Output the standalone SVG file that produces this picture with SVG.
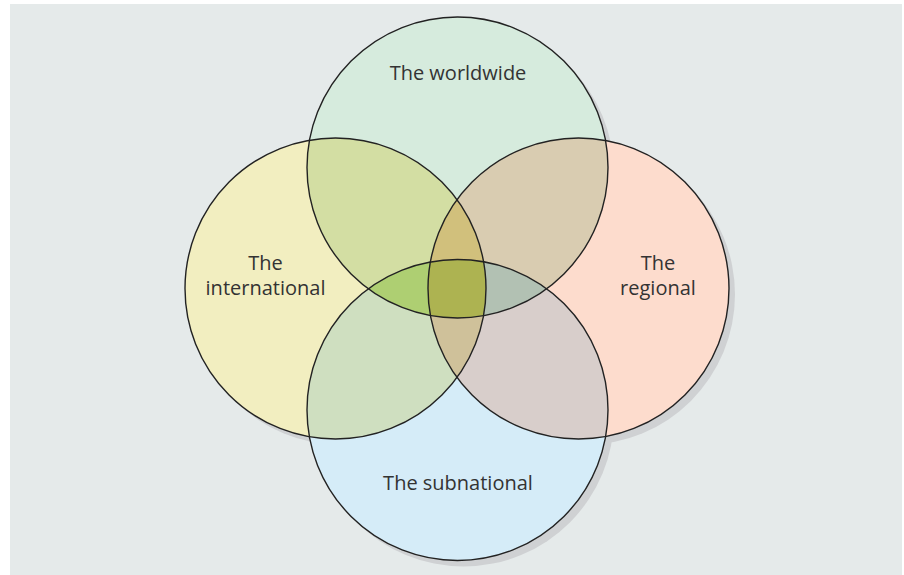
<svg xmlns="http://www.w3.org/2000/svg" width="904" height="575" viewBox="0 0 904 575">
<style>
.lbl{font-family:"Open Sans","Noto Sans","Liberation Sans",sans-serif;font-size:20px;fill:#333333;text-anchor:middle}
.ring{fill:none;stroke:#222222;stroke-width:1.4}
.shadow{fill:#cfd1d3}
</style>
<defs>
<circle id="cT" cx="457.5" cy="167.5" r="150.5"/>
<circle id="cL" cx="335.5" cy="288.5" r="150.5"/>
<circle id="cR" cx="578.5" cy="288.5" r="150.5"/>
<circle id="cB" cx="457.5" cy="410" r="150.5"/>
<clipPath id="kT"><use href="#cT"/></clipPath>
<clipPath id="kL"><use href="#cL"/></clipPath>
<clipPath id="kR"><use href="#cR"/></clipPath>
<clipPath id="kB"><use href="#cB"/></clipPath>
</defs>
<rect x="0" y="0" width="904" height="575" fill="#ffffff"/>
<rect x="10" y="4" width="892" height="571" fill="#e5eaea"/>
<g id="shadows">
<use href="#cT" class="shadow" transform="translate(6,6)"/>
<use href="#cL" class="shadow" transform="translate(6,6)"/>
<use href="#cR" class="shadow" transform="translate(6,6)"/>
<use href="#cB" class="shadow" transform="translate(6,6)"/>
</g>
<g id="node-worldwide"><use href="#cT" fill="#d6ebdd"/></g>
<g id="node-international"><use href="#cL" fill="#f2eec0"/></g>
<g id="node-regional"><use href="#cR" fill="#fddccd"/></g>
<g id="node-subnational"><use href="#cB" fill="#d5ecf8"/></g>
<g id="overlaps">
<use href="#cL" fill="#d3dea3" clip-path="url(#kT)"/>
<use href="#cR" fill="#d9ccb1" clip-path="url(#kT)"/>
<use href="#cL" fill="#cfdfc0" clip-path="url(#kB)"/>
<use href="#cR" fill="#d8cecb" clip-path="url(#kB)"/>
<g clip-path="url(#kT)"><use href="#cL" fill="#d1c07c" clip-path="url(#kR)"/></g>
<g clip-path="url(#kB)"><use href="#cL" fill="#cfc19a" clip-path="url(#kR)"/></g>
<g clip-path="url(#kT)"><use href="#cB" fill="#aecf72" clip-path="url(#kL)"/></g>
<g clip-path="url(#kT)"><use href="#cB" fill="#b2c1b3" clip-path="url(#kR)"/></g>
<g clip-path="url(#kT)"><g clip-path="url(#kB)"><use href="#cL" fill="#adb351" clip-path="url(#kR)"/></g></g>
</g>
<g id="outlines">
<use href="#cT" class="ring"/>
<use href="#cL" class="ring"/>
<use href="#cR" class="ring"/>
<use href="#cB" class="ring"/>
</g>
<g id="labels">
<text class="lbl" x="458" y="80">The worldwide</text>
<text class="lbl" x="265.5" y="270">The</text>
<text class="lbl" x="265.5" y="295">international</text>
<text class="lbl" x="658" y="270">The</text>
<text class="lbl" x="658" y="295">regional</text>
<text class="lbl" x="458" y="490">The subnational</text>
</g>
</svg>
